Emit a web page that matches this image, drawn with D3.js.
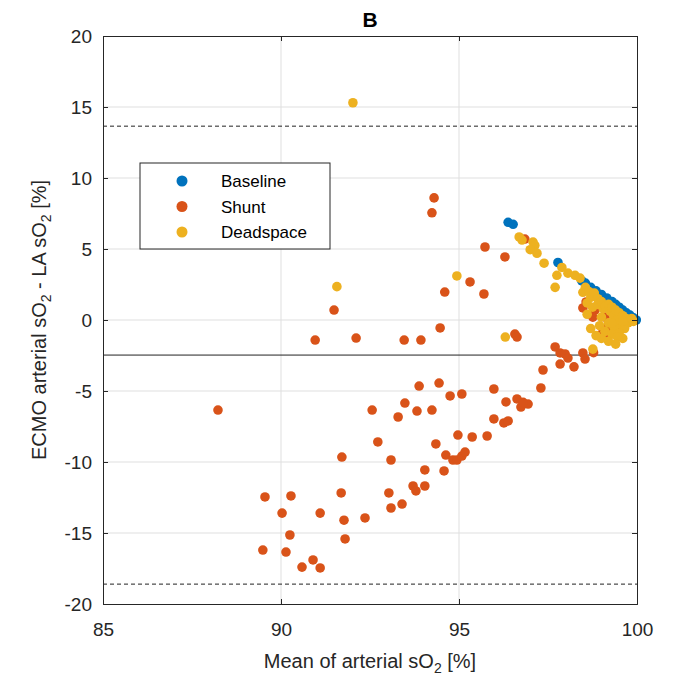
<!DOCTYPE html>
<html>
<head>
<meta charset="utf-8">
<script src="https://cdn.jsdelivr.net/npm/d3@7"></script>
<style>
body { margin: 0; background: #fff; }
text { font-family: "Liberation Sans", Arial, sans-serif; }
</style>
</head>
<body>
<div id="chart"></div>
<script>
// x = mean of arterial sO2, y = difference
var baseline = [
  [96.38,6.88],[96.52,6.74],[97.78,4.05],[98.45,2.75],[98.55,2.6],[98.7,2.3],[98.85,2.05],
  [99.0,1.8],[99.15,1.55],[99.3,1.3],[99.4,1.1],[99.5,0.9],[99.6,0.7],[99.7,0.5],
  [99.8,0.35],[99.9,0.15],[99.98,0.0]
];
var shunt = [
  [94.30,8.6],[94.24,7.55],[91.49,0.7],[92.11,-1.27],[90.96,-1.41],[94.6,1.97],[95.31,2.68],
  [95.7,1.83],[95.73,5.14],[96.29,4.44],[96.85,5.7],[93.46,-1.41],[93.93,-1.41],[94.47,-0.56],
  [96.57,-0.99],[96.63,-1.2],
  [88.23,-6.34],[92.56,-6.34],[92.72,-8.59],[91.71,-9.65],[89.55,-12.46],[90.28,-12.39],
  [91.69,-12.18],[90.03,-13.6],[91.10,-13.6],[91.77,-14.1],[92.36,-13.94],[90.25,-15.14],
  [91.80,-15.42],[89.49,-16.2],[90.14,-16.34],[90.90,-16.9],[90.59,-17.4],[91.10,-17.46],
  [93.88,-4.65],[94.44,-4.44],[94.75,-5.35],[95.08,-5.21],[95.98,-4.86],[97.30,-4.79],
  [93.48,-5.85],[93.29,-6.83],[93.82,-6.41],[94.24,-6.34],[96.32,-5.77],[96.63,-5.56],
  [96.74,-6.13],[96.94,-5.92],[96.8,-5.8],[95.98,-6.97],[96.26,-7.25],[96.38,-7.11],
  [94.97,-8.1],[95.37,-8.24],[95.79,-8.17],[94.35,-8.73],[94.63,-9.51],[94.83,-9.86],
  [94.94,-9.86],[95.08,-9.58],[95.17,-9.3],[93.09,-9.86],[94.04,-10.56],[94.58,-10.63],
  [93.71,-11.69],[93.79,-12.04],[94.04,-11.69],[93.03,-12.18],[93.40,-12.96],[93.09,-13.24],
  [97.36,-3.52],[97.84,-3.1],[98.23,-3.3],[97.70,-1.9],[97.84,-2.32],[97.98,-2.39],
  [98.06,-2.68],[98.48,-2.32],[98.54,-2.75],[98.78,-2.3],
  [98.48,0.85],[98.57,1.27],[98.82,0.7],[98.76,0.2],[99.1,0.2],[99.16,-0.56],[99.41,-0.63],
  [99.1,-1.2],[99.0,-1.0]
];
var deadspace = [
  [92.02,15.3],[91.57,2.35],[94.94,3.1],[96.3,-1.2],[98.76,-2.05],
  [96.69,5.85],[96.77,5.63],[97.08,5.49],[97.13,5.25],[97.0,4.95],[97.19,4.7],[97.39,4.0],
  [97.89,3.7],[97.75,3.15],[97.7,2.3],[98.06,3.3],[98.26,3.15],[98.4,2.95],[98.48,1.95],
  [98.55,2.3],[98.65,2.0],[98.7,1.6],[98.8,1.9],[98.9,1.5],[98.6,1.2],[98.75,0.9],[98.9,1.1],
  [99.0,1.3],[99.05,0.8],[99.1,1.0],[99.2,1.1],[99.25,0.6],[99.3,0.9],[99.35,0.3],[99.4,0.7],
  [99.5,0.5],[99.45,0.0],[99.6,0.3],[99.55,-0.3],[99.7,0.1],[99.75,-0.2],[99.8,0.0],
  [99.65,-0.6],[99.35,-0.5],[99.2,-0.2],[99.0,0.2],[98.95,-0.4],[99.1,-0.8],[99.3,-1.0],
  [99.5,-0.9],[99.0,-1.3],[99.2,-1.5],[98.85,-1.1],[99.45,-1.2],[99.6,-0.1],[99.9,-0.1],
  [99.85,0.1],[99.3,-0.2],[98.6,0.4],[98.7,-0.6],[99.6,-1.3],[99.4,-1.7]
];
var meanDiff = -2.47;
var loaUpper = 13.65;
var loaLower = -18.6;
var xTicks = [85, 90, 95, 100];
var yTicks = [-20, -15, -10, -5, 0, 5, 10, 15, 20];
var seriesNames = ["Baseline", "Shunt", "Deadspace"];
var seriesColors = ["#0072BD", "#D95319", "#EDB120"];

var width = 674, height = 686;
var svg = d3.select("#chart").append("svg")
  .attr("width", width).attr("height", height);

var x = d3.scaleLinear().domain([85, 100]).range([103, 637]);
var y = d3.scaleLinear().domain([-20, 20]).range([604, 36]);
var plain = function(d){ return String(d); };

// grid
svg.append("g").selectAll("line").data(xTicks.slice(1, -1)).enter().append("line")
  .attr("x1", function(d){ return x(d); }).attr("x2", function(d){ return x(d); })
  .attr("y1", y(20)).attr("y2", y(-20))
  .attr("stroke", "#dfdfdf").attr("stroke-width", 1);
svg.append("g").selectAll("line").data(yTicks.slice(1, -1)).enter().append("line")
  .attr("x1", x(85)).attr("x2", x(100))
  .attr("y1", function(d){ return y(d); }).attr("y2", function(d){ return y(d); })
  .attr("stroke", "#dfdfdf").attr("stroke-width", 1);

// reference lines
svg.append("line").attr("x1", x(85)).attr("x2", x(100))
  .attr("y1", y(meanDiff)).attr("y2", y(meanDiff))
  .attr("stroke", "#222").attr("stroke-width", 1);
[loaUpper, loaLower].forEach(function(v){
  svg.append("line").attr("x1", x(85)).attr("x2", x(100))
    .attr("y1", y(v)).attr("y2", y(v))
    .attr("stroke", "#222").attr("stroke-width", 1)
    .attr("stroke-dasharray", "4,3");
});

// points
[baseline, shunt, deadspace].forEach(function(set, i){
  svg.append("g").selectAll("circle").data(set).enter().append("circle")
    .attr("cx", function(d){ return x(d[0]); })
    .attr("cy", function(d){ return y(d[1]); })
    .attr("r", 4.8)
    .attr("fill", seriesColors[i]);
});

// axes (ticks inward)
svg.append("g").attr("transform", "translate(0," + y(-20) + ")")
  .call(d3.axisBottom(x).tickValues(xTicks).tickSize(-5).tickPadding(19).tickFormat(plain));
svg.append("g").attr("transform", "translate(" + x(85) + ",0)")
  .call(d3.axisLeft(y).tickValues(yTicks).tickSize(-5).tickPadding(11).tickFormat(plain));
svg.append("g").attr("transform", "translate(0," + y(20) + ")")
  .call(d3.axisTop(x).tickValues(xTicks).tickSize(-5).tickFormat(""));
svg.append("g").attr("transform", "translate(" + x(100) + ",0)")
  .call(d3.axisRight(y).tickValues(yTicks).tickSize(-5).tickFormat(""));
svg.selectAll(".domain").attr("stroke", "#262626");
svg.selectAll(".tick line").attr("stroke", "#262626");
svg.selectAll(".tick text").attr("fill", "#262626")
  .style("font-size", "19px").style("font-family", "'Liberation Sans', Arial, sans-serif");

// title
svg.append("text").attr("x", 370).attr("y", 27).attr("text-anchor", "middle")
  .style("font-size", "21px").style("font-weight", "bold").text("B");

// x label
var xl = svg.append("text").attr("x", 370).attr("y", 668).attr("text-anchor", "middle")
  .style("font-size", "20px").attr("fill", "#262626");
xl.append("tspan").text("Mean of arterial sO");
xl.append("tspan").attr("dy", 5).style("font-size", "14px").text("2");
xl.append("tspan").attr("dy", -5).text(" [%]");

// y label
var yl = svg.append("text").attr("transform", "translate(46," + y(0) + ") rotate(-90)")
  .attr("text-anchor", "middle").style("font-size", "20px").attr("fill", "#262626");
yl.append("tspan").text("ECMO arterial sO");
yl.append("tspan").attr("dy", 5).style("font-size", "14px").text("2");
yl.append("tspan").attr("dy", -5).text(" - LA sO");
yl.append("tspan").attr("dy", 5).style("font-size", "14px").text("2");
yl.append("tspan").attr("dy", -5).text(" [%]");

// legend
var lg = svg.append("g");
lg.append("rect").attr("x", 140).attr("y", 163).attr("width", 190).attr("height", 86)
  .attr("fill", "#fff").attr("stroke", "#262626").attr("stroke-width", 1);
seriesNames.forEach(function(name, i){
  lg.append("circle").attr("cx", 182).attr("cy", 181 + i * 25.5).attr("r", 5.5)
    .attr("fill", seriesColors[i]);
  lg.append("text").attr("x", 221).attr("y", 187 + i * 25.5)
    .style("font-size", "17px").attr("fill", "#000").text(name);
});
</script>
</body>
</html>
